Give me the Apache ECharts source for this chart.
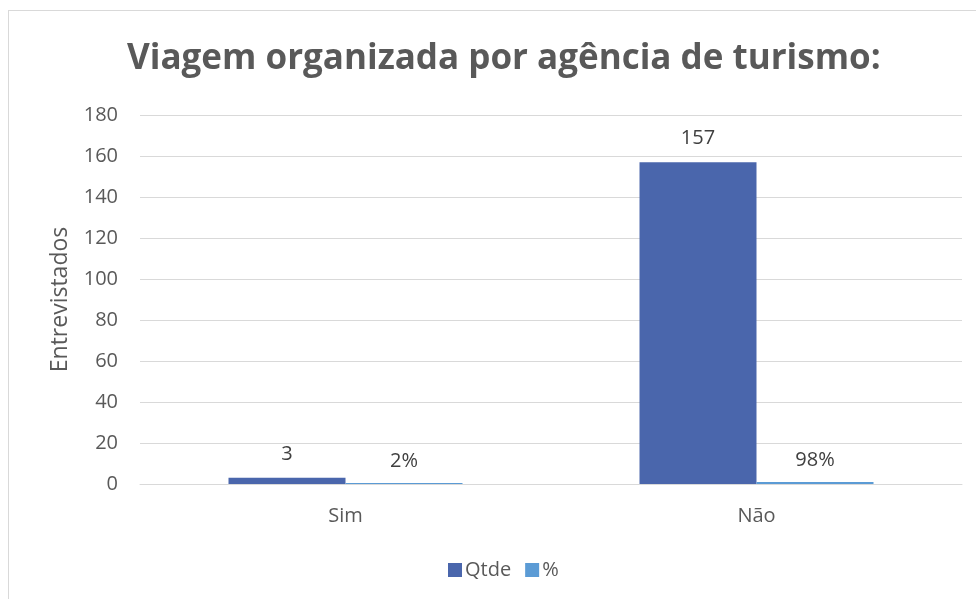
<!DOCTYPE html>
<html>
<head>
<meta charset="utf-8">
<script src="https://cdn.jsdelivr.net/npm/echarts@6/dist/echarts.min.js"></script>
<style>
  html, body { margin: 0; padding: 0; background: #fff; }
  #frame { position: absolute; left: 8px; top: 10px; width: 980px; height: 600px; border: 1px solid #d9d9d9; box-sizing: border-box; }
  #chart { position: absolute; left: 0; top: 0; width: 976px; height: 599px; }
</style>
</head>
<body>
<div id="frame"></div>
<div id="chart"></div>
<script>
const categories = ["Sim", "Não"];
const qtde = [3, 157];
const pct = [0.02, 0.98]; // share, drawn on the same axis as in the source
const yTicks = { min: 0, max: 180, interval: 20 };

const textColor = "#595959";
const font = "'Open Sans', 'Liberation Sans', sans-serif";

const chart = echarts.init(document.getElementById("chart"));
chart.setOption({
  animation: false,
  title: {
    text: "Viagem organizada por agência de turismo:",
    left: 122,
    top: 37,
    textStyle: { color: textColor, fontSize: 35, fontWeight: "bold", fontFamily: font },
  },
  legend: {
    data: ["Qtde", "%"],
    bottom: 14,
    left: 443,
    itemWidth: 14,
    itemHeight: 14,
    itemGap: 14,
    icon: "rect",
    textStyle: { color: textColor, fontSize: 20, fontFamily: font, padding: [0, 0, 0, -2] },
  },
  grid: { left: 140, right: 14, top: 115, bottom: 115 },
  xAxis: {
    type: "category",
    data: categories,
    axisLine: { lineStyle: { color: "#d9d9d9" } },
    axisTick: { show: false },
    axisLabel: { color: textColor, fontSize: 20, fontFamily: font, margin: 22 },
  },
  yAxis: {
    type: "value",
    min: yTicks.min,
    max: yTicks.max,
    interval: yTicks.interval,
    name: "Entrevistados",
    nameLocation: "middle",
    nameGap: 68,
    nameTextStyle: { color: textColor, fontSize: 23, fontFamily: font },
    axisLine: { show: false },
    axisTick: { show: false },
    axisLabel: { color: textColor, fontSize: 20, fontFamily: font, margin: 22 },
    splitLine: { lineStyle: { color: "#d9d9d9", width: 1 } },
  },
  series: [
    {
      name: "Qtde",
      type: "bar",
      data: qtde,
      barWidth: 117,
      barGap: 0,
      itemStyle: { color: "#4a66ac" },
      label: {
        show: true,
        position: "top",
        distance: 14,
        color: "#404040",
        fontSize: 20,
        fontFamily: font,
      },
    },
    {
      name: "%",
      type: "bar",
      data: pct,
      barWidth: 117,
      barGap: 0,
      barMinHeight: 1,
      itemStyle: { color: "#5b9bd5" },
      label: {
        show: true,
        position: "top",
        distance: 12,
        color: "#404040",
        fontSize: 20,
        fontFamily: font,
        formatter: function (p) {
          return Math.round(p.value * 100) + "%";
        },
      },
    },
  ],
});
</script>
</body>
</html>
